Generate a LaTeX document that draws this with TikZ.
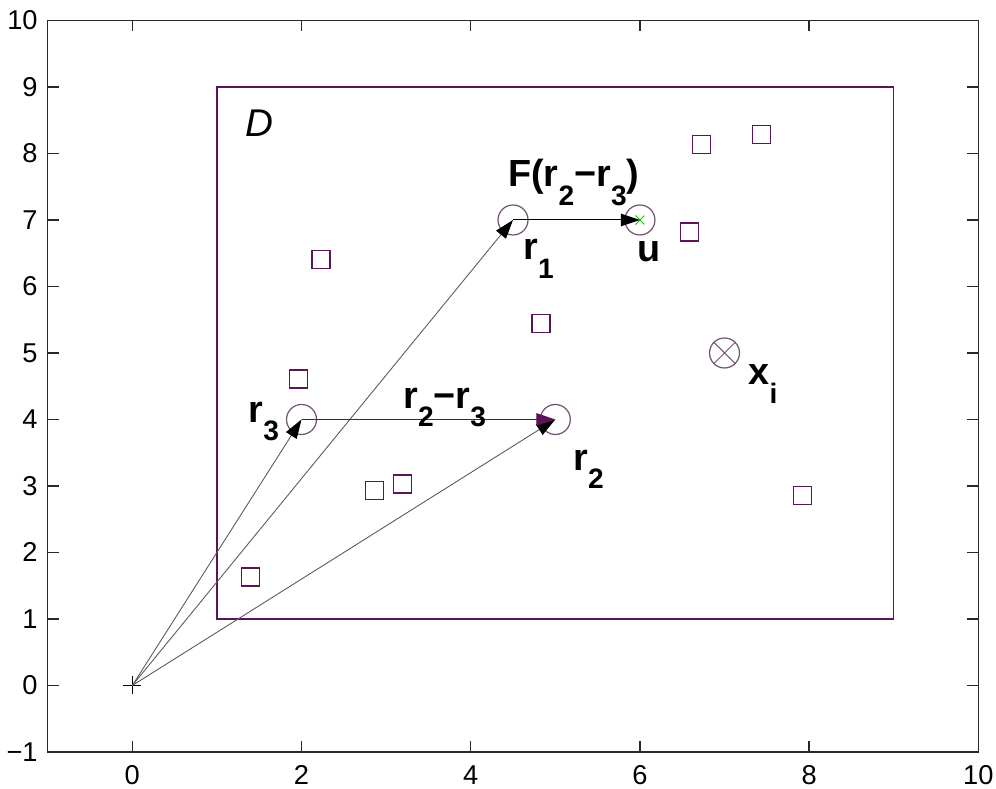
\documentclass[tikz,border=0pt]{standalone}
\usepackage{fontspec}
\setmainfont{Liberation Sans}
\usetikzlibrary{arrows.meta}
\definecolor{plum}{RGB}{90,20,90}
\definecolor{circ}{RGB}{115,85,115}
\definecolor{axgray}{RGB}{40,40,40}
\newcommand\sbx[1]{\raisebox{-0.49em}{\fontsize{16}{18}\selectfont #1}}
\begin{document}
\begin{tikzpicture}[x=1.692cm,y=1.33cm,
  axisline/.style={draw=axgray,line width=0.75pt},
  ticklab/.style={font=\fontsize{15.5}{18}\selectfont,inner sep=0pt},
  lab/.style={font=\fontsize{21.5}{24}\selectfont\bfseries,anchor=base west,inner sep=0pt},
  sq/.style={draw=plum,line width=0.7pt,rectangle,minimum size=0.36cm,inner sep=0pt},
  pt/.style={draw=circ,line width=0.7pt,circle,minimum size=0.6cm,inner sep=0pt},
  tip/.style={-{Triangle[length=0.38cm,width=0.25cm,color=black]}},
  ray/.style={tip,draw=black!65,line width=0.5pt}]
\useasboundingbox (-1.564,-1.556) rectangle (10.209,10.308);
% axes box
\draw[axisline] (-1,-1) rectangle (10,10);
\foreach \xv/\xl in {0/0,2/2,4/4,6/6,8/8,10/10}{
  \draw[axisline] (\xv,-1) -- ++(0,0.165);
  \draw[axisline] (\xv,10) -- ++(0,-0.165);
  \node[ticklab] (xl\xv) at (\xv,-1.346) {\xl};
}
\foreach \yv/\yl in {-1/−1,0/0,1/1,2/2,3/3,4/4,5/5,6/6,7/7,8/8,9/9,10/10}{
  \draw[axisline] (-1,\yv) -- ++(0.13,0);
  \draw[axisline] (10,\yv) -- ++(-0.13,0);
  \node[ticklab,anchor=east] (yl\yv) at (-1.115,\yv) {\yl};
}
% domain D
\draw[draw=plum,line width=0.75pt] (1,1) rectangle (9,9);
\node[anchor=base west,inner sep=0pt,font=\fontsize{22}{26}\selectfont\itshape] (D) at (1.33,8.25) {D};
% squares
\foreach \i/\p in {1/{2.23,6.41},2/{1.96,4.61},3/{4.83,5.44},4/{6.73,8.14},5/{7.44,8.28},6/{6.59,6.82},7/{2.86,2.93},8/{3.19,3.03},9/{1.40,1.63},10/{7.92,2.86}}{
  \node[sq] (s\i) at (\p) {};
}
% points
\node[pt] (r1) at (4.5,7) {};
\node[pt] (u) at (6,7) {};
\node[pt] (r3) at (2,4) {};
\node[pt] (r2) at (5,4) {};
\node[pt] (xi) at (7,5) {};
\draw[draw=circ,line width=0.6pt] (xi.north east) -- (xi.south west) (xi.north west) -- (xi.south east);
\draw[green!80!black,line width=0.5pt] ([shift={(-0.09cm,-0.09cm)}]u.center) -- ([shift={(0.09cm,0.09cm)}]u.center)
  ([shift={(-0.09cm,0.09cm)}]u.center) -- ([shift={(0.09cm,-0.09cm)}]u.center);
% origin
\coordinate (o) at (0,0);
\draw[black,line width=0.6pt] ([xshift=-0.18cm]o) -- ([xshift=0.18cm]o) ([yshift=-0.18cm]o) -- ([yshift=0.18cm]o);
% arrows
\draw[ray] (o) -- (r3.center);
\draw[ray] (o) -- (r1.center);
\draw[ray] (o) -- (r2.center);
\draw[tip,draw=black,line width=0.6pt] (r1.center) -- (u.center);
\draw[-{Triangle[length=0.38cm,width=0.25cm,color=plum]},draw=plum,line width=0.75pt] (r3.center) -- (r2.center);
% labels
\node[lab] (lF) at (4.44,7.50) {F(r\sbx{2}−r\sbx{3})};
\node[lab] (lr1) at (4.62,6.40) {r\sbx{1}};
\node[lab] (lu) at (5.97,6.37) {u};
\node[lab] (lr3) at (1.37,3.96) {r\sbx{3}};
\node[lab] (ld) at (3.20,4.17) {r\sbx{2}−r\sbx{3}};
\node[lab] (lr2) at (5.21,3.24) {r\sbx{2}};
\node[lab] (lxi) at (7.28,4.52) {x\sbx{i}};
\end{tikzpicture}
\end{document}
